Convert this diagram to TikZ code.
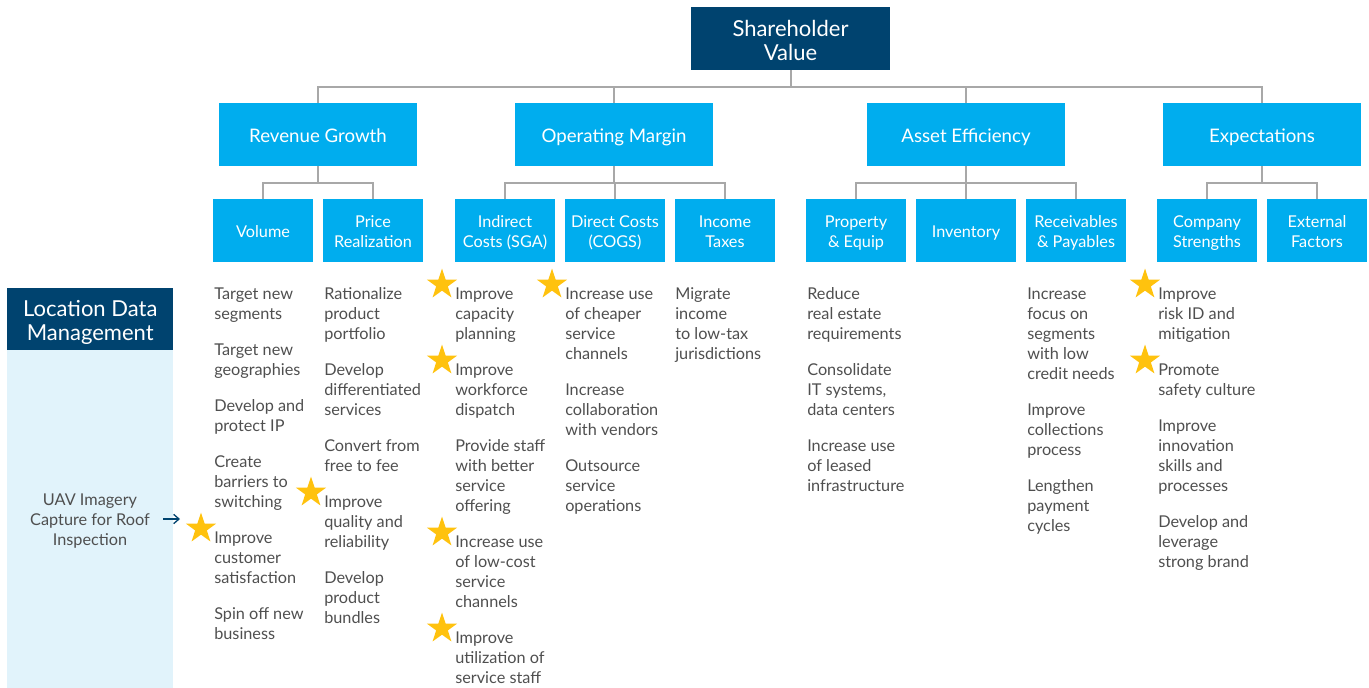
\documentclass[tikz,border=0pt]{standalone}
\usepackage{fontspec}
\setmainfont{Lato}
\usetikzlibrary{shapes.geometric,arrows.meta}
\definecolor{dblue}{HTML}{00436F}
\definecolor{cyanb}{HTML}{00ADEE}
\definecolor{panelb}{HTML}{E1F3FB}
\definecolor{linegrey}{HTML}{A8A8A8}
\definecolor{txtgrey}{HTML}{4F4F4F}
\definecolor{stargold}{HTML}{FFC20E}
\def\bxH{12pt}\def\bxD{3pt}
\newcommand\bxt{\rule{0pt}{\bxH}}
\newcommand\bxb{\rule[-\bxD]{0pt}{0pt}}
\newcommand\its{\rule{0pt}{9.5pt}}
\tikzset{
  topbox/.style={fill=dblue,text=white,minimum width=199*0.75pt,minimum height=63*0.75pt,inner sep=0pt,align=center,font=\fontsize{16.5}{18}\selectfont\def\bxH{19.2pt}\def\bxD{4.3pt}},
  lvtwo/.style={fill=cyanb,text=white,minimum width=198*0.75pt,minimum height=63*0.75pt,inner sep=0pt,align=center,font=\fontsize{14}{15}\selectfont\def\bxH{15.4pt}\def\bxD{3.64pt}},
  lvthree/.style={fill=cyanb,text=white,minimum width=100*0.75pt,minimum height=63*0.75pt,inner sep=0pt,align=center,font=\fontsize{12.2}{15}\selectfont\def\bxH{13.5pt}\def\bxD{3.2pt}},
  item/.style={anchor=north west,inner sep=0pt,align=left,text=txtgrey,font=\fontsize{12.2}{15}\selectfont},
  conn/.style={draw=linegrey,line width=1.5pt},
  goldstar/.style={star,star points=5,star point ratio=2.6,fill=stargold,draw=none,minimum size=32*0.75pt,inner sep=0pt},
}
\begin{document}
\begin{tikzpicture}[x=0.75pt,y=-0.75pt]
\useasboundingbox (0,0) rectangle (1369,688);
% top
\node[topbox] (sv) at (790.5,38.5) {\bxt Shareholder\\Value\bxb};
% level 2
\node[lvtwo] (rg) at (318,134.5) {\bxt Revenue Growth\bxb};
\node[lvtwo] (om) at (614,134.5) {\bxt Operating Margin\bxb};
\node[lvtwo] (ae) at (966,134.5) {\bxt Asset Efficiency\bxb};
\node[lvtwo] (ex) at (1262,134.5) {\bxt Expectations\bxb};
% level 3
\node[lvthree] (vol) at (263,230.5) {\bxt Volume\bxb};
\node[lvthree] (pr) at (373,230.5) {\bxt Price\\Realization\bxb};
\node[lvthree] (ic) at (505,230.5) {\bxt Indirect\\Costs (SGA)\bxb};
\node[lvthree] (dc) at (615,230.5) {\bxt Direct Costs\\(COGS)\bxb};
\node[lvthree] (it) at (725,230.5) {\bxt Income\\Taxes\bxb};
\node[lvthree] (pe) at (856,230.5) {\bxt Property\\\& Equip\bxb};
\node[lvthree] (inv) at (966,230.5) {\bxt Inventory\bxb};
\node[lvthree] (rp) at (1076,230.5) {\bxt Receivables\\\& Payables\bxb};
\node[lvthree] (cs) at (1207,230.5) {\bxt Company\\Strengths\bxb};
\node[lvthree] (ef) at (1317,230.5) {\bxt External\\Factors\bxb};
% connectors
\foreach \c in {rg,om,ae,ex}{\draw[conn] (sv.south) -- ++(0,17) -| (\c.north);}
\foreach \c in {vol,pr}{\draw[conn] (rg.south) -- ++(0,17) -| (\c.north);}
\foreach \c in {ic,dc,it}{\draw[conn] (om.south) -- ++(0,17) -| (\c.north);}
\foreach \c in {pe,inv,rp}{\draw[conn] (ae.south) -- ++(0,17) -| (\c.north);}
\foreach \c in {cs,ef}{\draw[conn] (ex.south) -- ++(0,17) -| (\c.north);}
% left panel
\node[fill=panelb,minimum width=166*0.75pt,minimum height=338*0.75pt,inner sep=0pt,anchor=north west] (panel) at (7,350) {};
\node[topbox,minimum width=166*0.75pt,minimum height=62*0.75pt,anchor=south west] (ldm) at (7,350) {\bxt Location Data\\Management\bxb};
\node[align=center,inner sep=0pt,text=txtgrey,font=\fontsize{12.2}{15}\selectfont] (uav) at (90,521) {UAV Imagery\\Capture for Roof\\Inspection};
\coordinate (arrs) at (163,519);
\coordinate (arre) at (180,519);
\draw[dblue,line width=1pt,-{Straight Barb[length=4pt,width=7pt]}] (arrs) -- (arre);
% items: Volume
\node[item] (v1) at (214,286.8) {\its Target new\\segments};
\node[item] (v2) at (214,342.8) {\its Target new\\geographies};
\node[item] (v3) at (214,398.8) {\its Develop and\\protect IP};
\node[item] (v4) at (214,454.8) {\its Create\\barriers to\\switching};
\node[item] (v5) at (214,530.8) {\its Improve\\customer\\satisfaction};
\node[item] (v6) at (214,606.8) {\its Spin off new\\business};
% Price
\node[item] (p1) at (324,286.8) {\its Rationalize\\product\\portfolio};
\node[item] (p2) at (324,362.8) {\its Develop\\differentiated\\services};
\node[item] (p3) at (324,438.8) {\its Convert from\\free to fee};
\node[item] (p4) at (324,494.8) {\its Improve\\quality and\\reliability};
\node[item] (p5) at (324,570.8) {\its Develop\\product\\bundles};
% Indirect
\node[item] (i1) at (455,286.8) {\its Improve\\capacity\\planning};
\node[item] (i2) at (455,362.8) {\its Improve\\workforce\\dispatch};
\node[item] (i3) at (455,438.8) {\its Provide staff\\with better\\service\\offering};
\node[item] (i4) at (455,534.8) {\its Increase use\\of low-cost\\service\\channels};
\node[item] (i5) at (455,630.8) {\its Improve\\utilization of\\service staff};
% Direct
\node[item] (d1) at (565,286.8) {\its Increase use\\of cheaper\\service\\channels};
\node[item] (d2) at (565,382.8) {\its Increase\\collaboration\\with vendors};
\node[item] (d3) at (565,458.8) {\its Outsource\\service\\operations};
% Income
\node[item] (t1) at (675,286.8) {\its Migrate\\income\\to low-tax\\jurisdictions};
% Property
\node[item] (e1) at (807,286.8) {\its Reduce\\real estate\\requirements};
\node[item] (e2) at (807,362.8) {\its Consolidate\\IT systems,\\data centers};
\node[item] (e3) at (807,438.8) {\its Increase use\\of leased\\infrastructure};
% Receivables
\node[item] (r1) at (1027,286.8) {\its Increase\\focus on\\segments\\with low\\credit needs};
\node[item] (r2) at (1027,402.8) {\its Improve\\collections\\process};
\node[item] (r3) at (1027,478.8) {\its Lengthen\\payment\\cycles};
% Company
\node[item] (c1) at (1158,286.8) {\its Improve\\risk ID and\\mitigation};
\node[item] (c2) at (1158,362.8) {\its Promote\\safety culture};
\node[item] (c3) at (1158,418.8) {\its Improve\\innovation\\skills and\\processes};
\node[item] (c4) at (1158,514.8) {\its Develop and\\leverage\\strong brand};
% stars
\node[goldstar] (s1) at (442,284.5) {};
\node[goldstar] (s2) at (442,360.5) {};
\node[goldstar] (s3) at (442,532.5) {};
\node[goldstar] (s4) at (442,628.5) {};
\node[goldstar] (s5) at (552,284.5) {};
\node[goldstar] (s6) at (311,492.5) {};
\node[goldstar] (s7) at (201,528.5) {};
\node[goldstar] (s8) at (1145,284.5) {};
\node[goldstar] (s9) at (1145,360.5) {};
\end{tikzpicture}
\end{document}
